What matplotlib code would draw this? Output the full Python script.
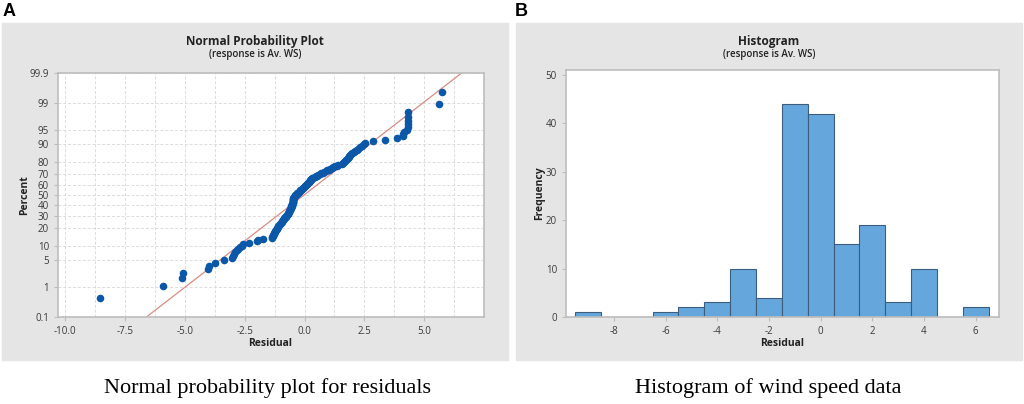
import matplotlib
matplotlib.use("Agg")
import matplotlib.pyplot as plt
from matplotlib.patches import Rectangle
from statistics import NormalDist
import numpy as np

plt.rcParams['font.family'] = ['Open Sans', 'DejaVu Sans']
plt.rcParams['axes.unicode_minus'] = False

# residuals (sorted)
residuals = [
    -8.55, -5.9, -5.1, -5.08, -4.02, -3.97, -3.72,
    -3.35, -3.02, -2.98, -2.95, -2.9, -2.84, -2.78, -2.7, -2.62, -2.55,
    -2.34, -1.98, -1.95, -1.72,
    -1.37, -1.35, -1.33, -1.31, -1.28, -1.26, -1.24, -1.22, -1.2, -1.17,
    -1.15, -1.12, -1.1, -1.07, -1.04, -1.01, -0.99, -0.96, -0.93, -0.91,
    -0.88, -0.86, -0.84, -0.81, -0.78, -0.76, -0.74, -0.71, -0.69, -0.67,
    -0.66, -0.64, -0.63, -0.61, -0.6, -0.59, -0.58, -0.57, -0.56, -0.55,
    -0.54, -0.53, -0.53, -0.52,
    -0.5, -0.5, -0.49, -0.49, -0.48, -0.48, -0.47, -0.46, -0.45, -0.44,
    -0.42, -0.4, -0.38, -0.36, -0.33, -0.3, -0.28, -0.25, -0.22, -0.2,
    -0.17, -0.14, -0.11, -0.08, -0.05, -0.02, 0.01, 0.04, 0.07, 0.1,
    0.12, 0.15, 0.17, 0.19, 0.21, 0.23, 0.26, 0.29, 0.33, 0.37, 0.42, 0.47,
    0.52, 0.58, 0.64, 0.7, 0.77, 0.83, 0.9, 0.96, 1.02, 1.08, 1.14, 1.2,
    1.27, 1.34, 1.42,
    1.55, 1.6, 1.64, 1.68, 1.72, 1.76, 1.8, 1.84, 1.88, 1.92, 1.96, 2.0,
    2.06, 2.12, 2.18, 2.25, 2.32, 2.4, 2.47,
    2.52, 2.85, 3.38,
    3.88, 4.1, 4.13, 4.15, 4.3, 4.31, 4.31, 4.32, 4.32, 4.33,
    5.6, 5.75,
]
pct_ticks = [0.1, 1, 5, 10, 20, 30, 40, 50, 60, 70, 80, 90, 95, 99, 99.9]
pct_labels = ["0.1", "1", "5", "10", "20", "30", "40", "50", "60", "70",
              "80", "90", "95", "99", "99.9"]
resid_ticks = [-10.0, -7.5, -5.0, -2.5, 0.0, 2.5, 5.0]

# histogram
hist_centers = [-9, -8, -7, -6, -5, -4, -3, -2, -1, 0, 1, 2, 3, 4, 5, 6]
hist_counts = [1, 0, 0, 1, 2, 3, 10, 4, 44, 42, 15, 19, 3, 10, 0, 2]
hist_ticks = [-8, -6, -4, -2, 0, 2, 4, 6]

nd = NormalDist()
W, H = 1024, 404
fig = plt.figure(figsize=(W / 100, H / 100), dpi=100)

panel_grey = "#e5e5e5"
for x0 in (2, 516):
    fig.patches.append(Rectangle((x0 / W, (H - 360) / H), 506 / W, 337 / H,
                                 transform=fig.transFigure, color=panel_grey,
                                 zorder=-5))

tick_col = "#3a3a3a"
spine_col = "#bdbdbd"
grid_col = "#dcdcdc"


def style_axes(ax):
    for s in ax.spines.values():
        s.set_color(spine_col)
        s.set_linewidth(1.2)
    ax.tick_params(colors=spine_col, labelcolor=tick_col, labelsize=7,
                   length=3, width=0.8)
    ax.tick_params(which='minor', length=0)


# ---- A: normal probability plot
ax1 = fig.add_axes([58 / W, (H - 317) / H, 426 / W, 244 / H])
n = len(residuals)
x = np.sort(np.array(residuals))
z = [nd.inv_cdf((i - 0.3) / (n + 0.4)) for i in range(1, n + 1)]
mu, sd = x.mean(), x.std(ddof=1)
zl = np.array([-3.5, 3.5])
ax1.plot(mu + sd * zl, zl, color="#d98b85", lw=0.9, zorder=2)
ax1.scatter(x, z, s=30, color="#0b57a8", zorder=3, linewidths=0)
zt = [nd.inv_cdf(p / 100) for p in pct_ticks]
ax1.set_yticks(zt)
ax1.set_yticklabels(pct_labels)
ax1.set_ylim(zt[0], zt[-1])
ax1.set_xticks(resid_ticks)
ax1.set_xticklabels([f"{t:.1f}" for t in resid_ticks])
ax1.set_xticks(np.arange(-10, 7.5, 1.25), minor=True)
ax1.set_xlim(-10.3, 7.5)
ax1.grid(True, which='both', axis='x', color=grid_col, ls=(0, (3, 2)), lw=0.7)
ax1.grid(True, which='major', axis='y', color=grid_col, ls=(0, (3, 2)), lw=0.7)
ax1.set_axisbelow(True)
style_axes(ax1)

# ---- B: histogram
ax2 = fig.add_axes([566 / W, (H - 317) / H, 433 / W, 247 / H])
ax2.bar(hist_centers, hist_counts, width=1.0, color="#65a7dd",
        edgecolor="#3d5d7d", linewidth=0.8, zorder=2)
ax2.set_xlim(-9.85, 6.9)
ax2.set_ylim(0, 51)
ax2.set_xticks(hist_ticks)
ax2.set_xticklabels([str(t) for t in hist_ticks])
ax2.set_yticks([0, 10, 20, 30, 40, 50])
style_axes(ax2)

# ---- panel text
for cx, title in ((255, "Normal Probability Plot"), (769, "Histogram")):
    fig.text(cx / W, 1 - 41 / H, title, ha='center', va='center',
             fontsize=8.5, fontweight='bold', color="#222222")
    fig.text(cx / W, 1 - 55 / H, "(response is Av. WS)", ha='center',
             va='center', fontsize=7, fontweight='semibold', color="#222222")
for cx in (270, 782):
    fig.text(cx / W, 1 - 343 / H, "Residual", ha='center', va='center',
             fontsize=7.5, fontweight='bold', color="#222222")
fig.text(25 / W, 1 - 195 / H, "Percent", ha='center', va='center',
         rotation=90, fontsize=7.5, fontweight='bold', color="#222222")
fig.text(540 / W, 1 - 193 / H, "Frequency", ha='center', va='center',
         rotation=90, fontsize=7.5, fontweight='bold', color="#222222")

fig.text(3 / W, 1 - 11 / H, "A", ha='left', va='center', fontsize=13,
         fontweight='bold', family='Liberation Sans')
fig.text(515 / W, 1 - 11 / H, "B", ha='left', va='center', fontsize=13,
         fontweight='bold', family='Liberation Sans')

fig.text(267 / W, 1 - 388 / H, "Normal probability plot for residuals",
         ha='center', va='center', fontsize=16, family='Liberation Serif')
fig.text(768 / W, 1 - 388 / H, "Histogram of wind speed data",
         ha='center', va='center', fontsize=16, family='Liberation Serif')

fig.savefig("out.png", dpi=100)
